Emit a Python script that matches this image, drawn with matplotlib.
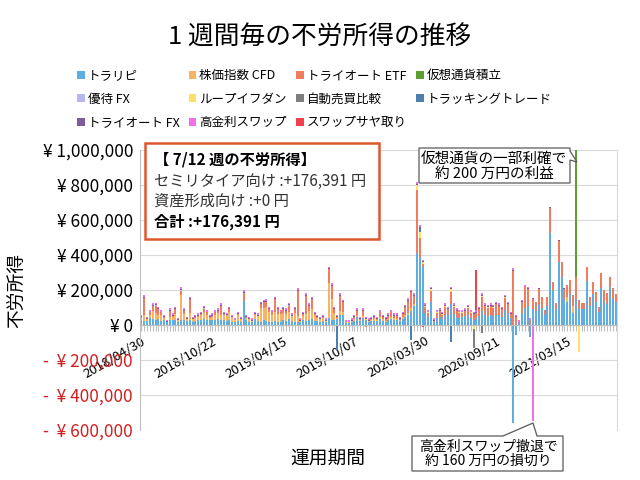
import numpy as np
import matplotlib
matplotlib.use("Agg")
import matplotlib.pyplot as plt
from matplotlib.patches import Rectangle, Polygon

plt.rcParams['font.family'] = ['Noto Sans CJK JP', 'DejaVu Sans']

# weekly values in 1,000 yen, 2018/04/30 .. 2021/07/12 (168 weeks)
toraripi = [30, 25, 22, 40, 35, 30, 35, 25, 28, 15, 30, 28, 30, 20, 30, 30, 25, 30, 20, 25,
            28, 30, 35, 30, 30, 28, 30, 35, 30, 30, 25, 30, 20, 18,
            25, 20, 140, 30, 20, 15, 35, 25, 20, 30, 25, 20, 20, 25, 20, 20, 30, 25, 35, 25,
            20, 20, 15, 30, 25, 30, 35, 25, 25, 20, 25, 15, 40, 30, 30,
            35, 60, 60, 12, 12, 20, 25, 45, 25, 40, 30, 18, 22, 25, 22, 35, 25, 20, 28, 35,
            30, 28, 22, 35, 45, 60, 80, 110,
            410, 390, 330, 70, 45, 130, 20, 40, 45, 35, 60, 55, 120, 65, 45, 40, 45, 50, 55, 40,
            30, 40, 50, 80, 55, 50, 60, 50, 60, 55, 45, 85, 70, 40,
            -560, -57, 15, 70, 100, 110, -67, 90, 80, 120, 100, 55, 110, 523, 200, 90, 361, 276, 150, 130,
            180, 70, 150, 90, 90, 90, 250, 110, 180, 130, 75, 210, 140, 120, 220, 150, 130]
cfd = [12, 35, 10, 20, 45, 40, 25, 30, 12, 5, 15, 20, 35, 8, 140, 35, 10, 40, 15, 15,
       20, 25, 40, 30, 12, 20, 30, 35, 30, 25, 25, 45, 25, 8,
       30, 12, -8, 12, 15, 10, 25, 25, 80, 70, 80, 55, 40, 50, 45, 45, 40, 40, 40, 25,
       50, 30, 10, 20, 40, 50, 55, 30, 15, 15, 15, 10, 200, 120, 40,
       5, 20, 15, 3, 3, 5, 10, 10, 5, 10, 5, 5, 5, 8, 5, 10, 8, 5, 8, 10,
       8, 8, 5, 8, 10, 10, 15, 10,
       0, 0, 0, 0, 0, 0, 0, 0, 0, 0, 0, 0, 0, 0, 0, 0, 0, 0, 0, 0,
       0, 0, 0, 0, 0, 0, 0, 0, 0, 0, 0, 0, 0, 0,
       0, 0, 0, 0, 0, 0, 0, 0, 0, 0, 0, 0, 0, 0, 0, 0, 0, 0, 0, 30,
       0, 40, 0, 0, 0, 0, 0, 0, 0, 0, 0, 0, 0, 0, 0, 0, 0]
etf = [3, 95, 4, 12, 30, 40, 32, 17, 5, 0, 37, 6, 27, 0, 26, 17, 2, 78, 2, 5,
       6, 8, 17, 12, 3, 5, 12, 12, 50, 8, 4, 16, 0, 0,
       8, 3, 42, 2, 0, 0, 3, 3, 20, 30, 25, 17, 12, 74, 27, 7, 22, 17, 36, 3,
       22, 147, 0, 13, 103, 31, 59, 8, 4, 0, 4, 0, 80, 75, 22,
       5, 85, 55, 0, 0, 0, 9, 27, 5, 32, -10, 2, 8, 11, 8, 27, 11, 10, 17, 27,
       15, 17, 8, 20, 46, 69, 92, 48,
       360, 110, 20, 35, 25, 65, 5, 30, 35, 25, 45, 35, 70, 40, 35, 30, 25, 30, 40, 30,
       33, 30, 40, 80, 55, 50, 50, 50, 58, 55, 47, 70, 50, 23,
       310, 45, 5, 60, 115, 96, 30, 57, 50, 87, 60, 30, 50, 148, 45, 34, 120, 82, 57, 66,
       75, 59, 124, 53, 34, 34, 83, 52, 67, 60, 30, 85, 60, 61, 56, 59, 46]
tao_fx = [5, 6, 5, 5, 6, 6, 5, 5, 5, 3, 5, 5, 5, 4, 6, 5, 4, 6, 4, 5,
          5, 5, 5, 5, 5, 5, 5, 5, 6, 5, 5, 6, 5, 5,
          5, 5, 8, 5, 5, 5, 5, 5, 5, 5, 5, 5, 5, 5, 5, 5, 5, 5, 5, 5,
          5, 5, 5, 5, 5, 5, 5, 5, 5, 5, 5, 5, 5, 5, 5,
          4, 6, 5, 5, 5, 5, 5, 5, 5, 5, 5, 5, 5, 5, 5, 5, 5, 5, 5, 5,
          5, 5, 5, 5, 5, 5, 5, 5,
          8, 10, 5, 5, 4, 5, 5, 5, 5, 5, 5, 5, 5, 5, 5, 5, 5, 5, 5, 5,
          5, 5, 5, 5, 5, 5, 5, 5, 5, 5, 5, 5, 5, 5,
          5, 4, 0, 5, 5, 5, 0, 5, 3, 2, 2, 1, 2, 4, 2, 0, 4, 3, 2, 2,
          2, 2, 2, 0, 0, 0, 0, 0, 0, 0, 0, 0, 0, 0, 0, 0, 0]
swap = [7, 9, 7, 8, 8, 8, 8, 8, 7, 5, 8, 7, 8, 6, 8, 8, 7, 8, 7, 7,
        7, 8, 8, 8, 7, 8, 8, 8, 8, 8, 7, 8, 7, 7,
        8, 8, 10, 8, 8, 8, 8, 8, 8, 8, 8, 8, 8, 8, 8, 8, 8, 8, 8, 8,
        8, 8, 8, 8, 8, 8, 8, 8, 8, 8, 8, 8, 8, 8, 8,
        8, 10, 8, 8, 8, 8, 8, 8, 8, 8, 8, 8, 8, 8, 8, 8, 8, 8, 8, 8,
        8, 8, 8, 8, 8, 8, 8, 8,
        10, 11, 6, 9, 8, 9, 8, 8, 8, 8, 8, 8, 8, 8, 8, 8, 8, 8, 8, 8,
        8, 8, 8, 8, 8, 8, 8, 8, 8, 8, 8, 8, 8, 8,
        8, 8, 8, 8, 8, 8, 8, -550, 0, 0, 0, 0, 0, 0, 0, 0, 0, 0, 0, 0,
        0, 0, 0, 0, 0, 0, 0, 0, 0, 0, 0, 0, 0, 0, 0, 0, 0]
# sparse series: {week index: value}
crypto = {153: 2000}
yutai_fx = {5: 4, 14: 5, 22: 4, 30: 4, 44: 4, 52: 3}
loop_ifdone = {97: 30, 98: 30, 99: 10, 100: 5, 101: 3, 102: 10, 104: 2, 105: 2, 106: 3, 107: 6,
               108: 2, 109: 16, 110: 6, 111: 2, 112: 2, 113: 2, 114: 2, 115: 6, 116: 2, 117: -20,
               119: 2, 120: 8, 121: 1, 122: 1, 123: 1, 124: 1, 125: 2, 126: 1, 128: 3, 154: -152}
jidou_hikaku = {117: -114, 120: -48}
tracking = {69: -143, 95: -86, 98: 20, 109: -95}
saya = {98: -8, 99: -10, 118: 231}

tick_idx = [0, 25, 50, 75, 100, 125, 150]
tick_labels = ['2018/04/30', '2018/10/22', '2019/04/15', '2019/10/07',
               '2020/03/30', '2020/09/21', '2021/03/15']

n = len(toraripi)


def dense(d):
    arr = np.zeros(n)
    for k, v in d.items():
        arr[k] = v
    return arr


series = [
    ('トラリピ', np.array(toraripi, float), '#5eaee2'),
    ('株価指数 CFD', np.array(cfd, float), '#f8b462'),
    ('トライオート ETF', np.array(etf, float), '#f27d5e'),
    ('仮想通貨積立', dense(crypto), '#5c9e30'),
    ('優待 FX', dense(yutai_fx), '#b8b8f0'),
    ('ループイフダン', dense(loop_ifdone), '#ffe066'),
    ('自動売買比較', dense(jidou_hikaku), '#7f7f7f'),
    ('トラッキングトレード', dense(tracking), '#4e7fb0'),
    ('トライオート FX', np.array(tao_fx, float), '#7e5c9c'),
    ('高金利スワップ', np.array(swap, float), '#f070e8'),
    ('スワップサヤ取り', dense(saya), '#f0404a'),
]


def fp(x, y):
    return (x / 640, 1 - y / 480)


fig = plt.figure(figsize=(6.4, 4.8), dpi=100)
ax = fig.add_axes([140 / 640, 1 - 430 / 480, 477 / 640, 280 / 480])

x = np.arange(n)
pos_b = np.zeros(n)
neg_b = np.zeros(n)
handles = {}
for name, vals, color in series:
    v = vals * 1000
    pos = np.where(v > 0, v, 0)
    neg = np.where(v < 0, v, 0)
    h = ax.bar(x, pos, 0.7, bottom=pos_b, color=color, linewidth=0)
    ax.bar(x, neg, 0.7, bottom=neg_b, color=color, linewidth=0)
    handles[name] = h
    pos_b += pos
    neg_b += neg

ax.set_xlim(-0.5, n - 0.5)
ax.set_ylim(-600000, 1000000)
yt = [-600000, -400000, -200000, 0, 200000, 400000, 600000, 800000, 1000000]
ylabs = [('-  ¥ {:,}'.format(-v) if v < 0 else '¥ {:,}'.format(v)) for v in yt]
ax.set_yticks(yt)
ax.set_yticklabels(ylabs, fontsize=12.4)
for lab, v in zip(ax.get_yticklabels(), yt):
    lab.set_color('#d02020' if v < 0 else 'black')
ax.tick_params(axis='y', length=0, pad=5)
ax.yaxis.grid(True, color='#d9d9d9', lw=0.8)
ax.set_axisbelow(True)

ax.spines['bottom'].set_position(('data', 0))
ax.spines['bottom'].set_color('#bfbfbf')
ax.spines['left'].set_color('#bfbfbf')
ax.spines['right'].set_color('#d9d9d9')
ax.spines['top'].set_visible(False)
ax.set_xticks(tick_idx)
ax.set_xticklabels(tick_labels, rotation=30, ha='right', rotation_mode='anchor', fontsize=9.5)
ax.set_xticks(x, minor=True)
ax.tick_params(axis='x', which='both', length=4, width=0.8, color='#bfbfbf', pad=3)

fig.text(*fp(320, 38), '1 週間毎の不労所得の推移', ha='center', va='center', fontsize=18.5)
fig.text(*fp(18, 290), '不労所得', rotation=90, ha='center', va='center', fontsize=13.5)
fig.text(*fp(328, 458), '運用期間', ha='center', va='center', fontsize=13.5)

order = ['トラリピ', '優待 FX', 'トライオート FX', '株価指数 CFD', 'ループイフダン', '高金利スワップ',
         'トライオート ETF', '自動売買比較', 'スワップサヤ取り', '仮想通貨積立', 'トラッキングトレード']
fig.legend([handles[k] for k in order], order, loc='upper left', bbox_to_anchor=fp(77, 69),
           ncol=4, frameon=False, fontsize=9, handlelength=0.6, handleheight=0.6,
           handletextpad=0.25, columnspacing=0.75, labelspacing=0.85, borderpad=0, borderaxespad=0)

# info box
fig.add_artist(Rectangle(fp(145, 239), 234 / 640, 96 / 480, transform=fig.transFigure,
                         fc='white', ec='#e0562c', lw=1.8, zorder=5))
info = [('【 7/12 週の不労所得】', 'bold', 160), ('セミリタイア向け :+176,391 円', 'normal', 181),
        ('資産形成向け :+0 円', 'normal', 201), ('合計 :+176,391 円', 'bold', 222)]
for txt, w, yy in info:
    fig.text(*fp(154, yy), txt, fontsize=11, weight=w, va='center', ha='left', zorder=6,
             color='black' if w == 'bold' else '#333333')

# callouts
c1 = [fp(419, 148), fp(570, 148), fp(570, 151), fp(577, 162), fp(570, 160), fp(570, 183), fp(419, 183)]
fig.add_artist(Polygon(c1, closed=True, transform=fig.transFigure, fc='white', ec='#595959', lw=0.9, zorder=5))
fig.text(*fp(494, 159), '仮想通貨の一部利確で', ha='center', va='center', fontsize=10.5, zorder=6)
fig.text(*fp(494, 174), '約 200 万円の利益', ha='center', va='center', fontsize=10.5, zorder=6)

c2 = [fp(412, 436), fp(503, 436), fp(533, 423), fp(537, 436), fp(563, 436), fp(563, 471), fp(412, 471)]
fig.add_artist(Polygon(c2, closed=True, transform=fig.transFigure, fc='white', ec='#595959', lw=0.9, zorder=5))
fig.text(*fp(488, 447), '高金利スワップ撤退で', ha='center', va='center', fontsize=10, zorder=6)
fig.text(*fp(488, 461), '約 160 万円の損切り', ha='center', va='center', fontsize=10, zorder=6)

fig.savefig('out.png', dpi=100)
